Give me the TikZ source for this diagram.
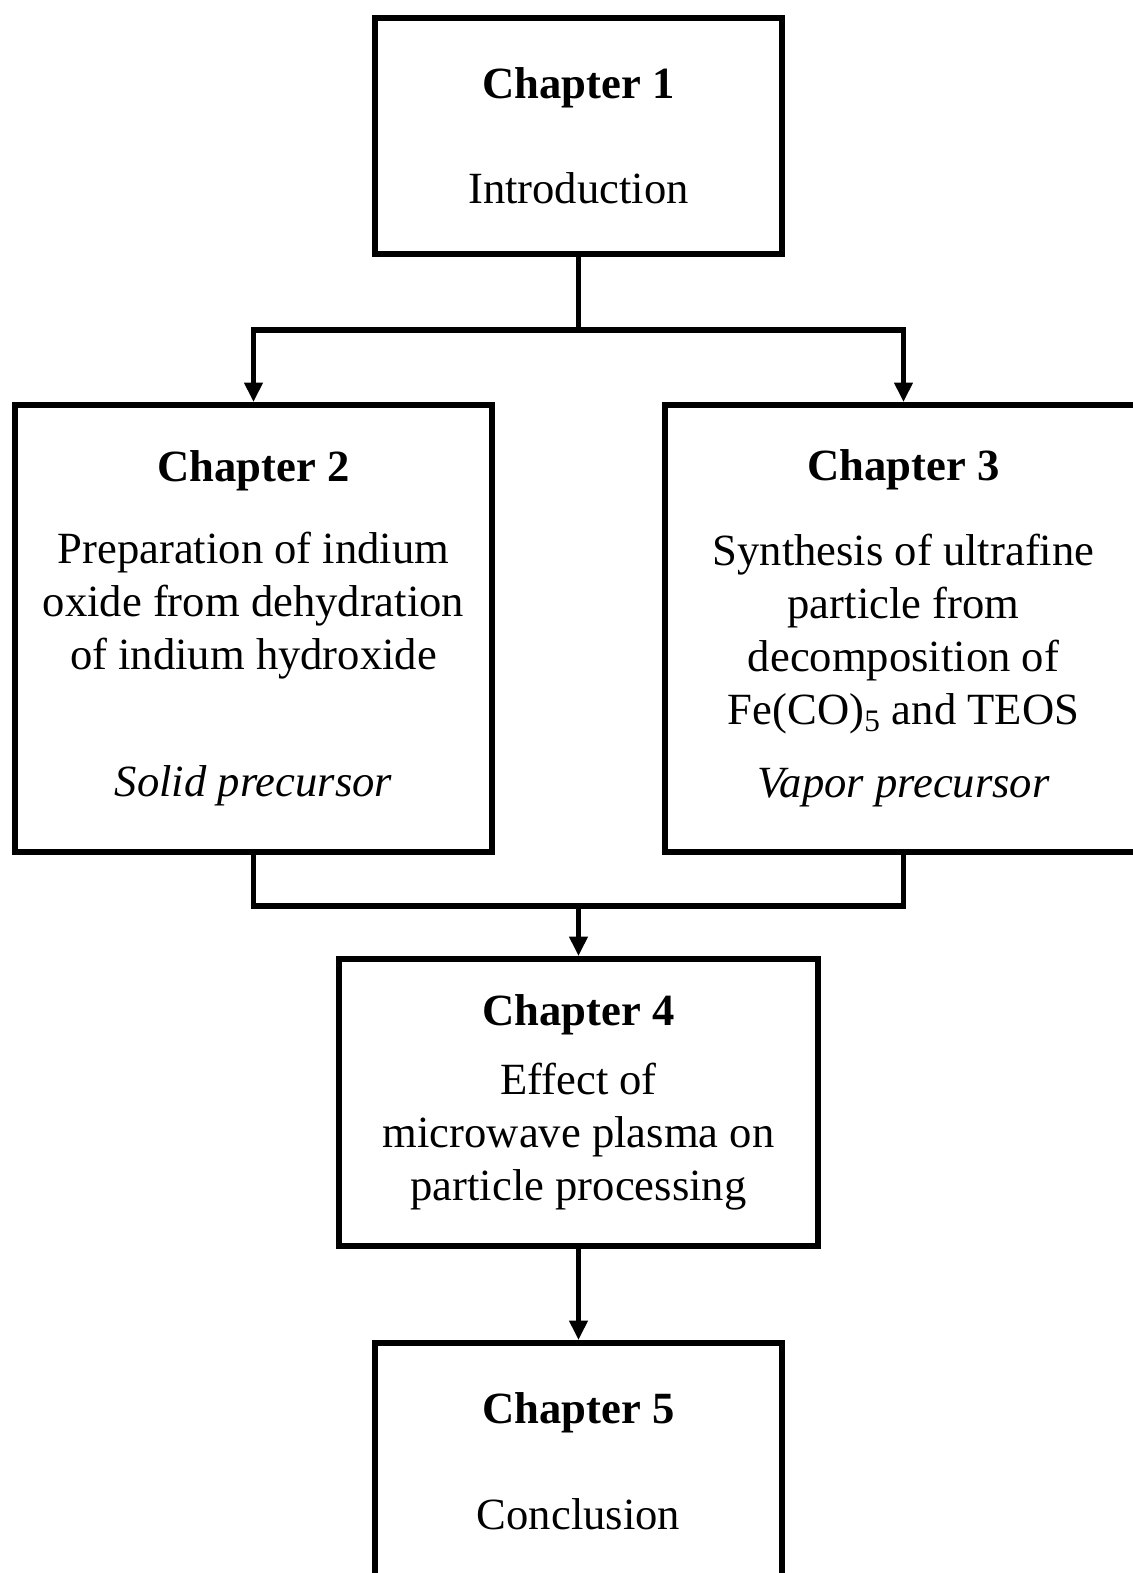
\documentclass[tikz,border=0pt]{standalone}
\usepackage{fontspec}
\setmainfont{Liberation Serif}
\usetikzlibrary{arrows.meta}

\begin{document}
\begin{tikzpicture}[x=0.02cm,y=-0.02cm,
    chap/.style={draw,line width=3.4pt,align=center,inner sep=0pt,
      font=\fontsize{25.4}{30.2}\selectfont},
    link/.style={line width=3.4pt},
    arr/.style={link,-{Triangle[width=10pt,length=11pt]}}]
    \useasboundingbox (0,0) rectangle (1133,1573);
    \clip (0,0) rectangle (1133,1573);
    % chapters
    \node[chap,minimum width=8.14cm,minimum height=4.72cm] (ch1) at (578.5,136)
      {\textbf{Chapter 1}\\[29.6pt]Introduction};
    \node[chap,minimum width=9.54cm,minimum height=8.94cm] (ch2) at (253.5,628.5)
      {\textbf{Chapter 2}\\[16.5pt]Preparation of indium\\oxide from dehydration\\of indium hydroxide\\[42pt]\textit{Solid precursor}};
    \node[chap,minimum width=9.54cm,minimum height=8.94cm] (ch3) at (903.5,628.5)
      {\textbf{Chapter 3}\\[18pt]Synthesis of ultrafine\\particle from\\decomposition of\\Fe(CO)\textsubscript{5} and TEOS\\[11.4pt]\textit{Vapor precursor}};
    \node[chap,minimum width=9.58cm,minimum height=5.74cm] (ch4) at (578.5,1102.5)
      {\textbf{Chapter 4}\\[9pt]Effect of\\microwave plasma on\\particle processing};
    \node[chap,minimum width=8.14cm,minimum height=4.72cm] (ch5) at (578.5,1461)
      {\textbf{Chapter 5}\\[30pt]Conclusion};
    % connectors
    \coordinate (split) at (578.5,330);
    \coordinate (join) at (578.5,906);
    \draw[link] (ch1.south)--(split);
    \draw[arr] (split)-|(ch2.north);
    \draw[arr] (split)-|(ch3.north);
    \draw[link] (ch2.south)|-(join)-|(ch3.south);
    \draw[arr] (join)--(ch4.north);
    \draw[arr] (ch4.south)--(ch5.north);
\end{tikzpicture}
\end{document}
